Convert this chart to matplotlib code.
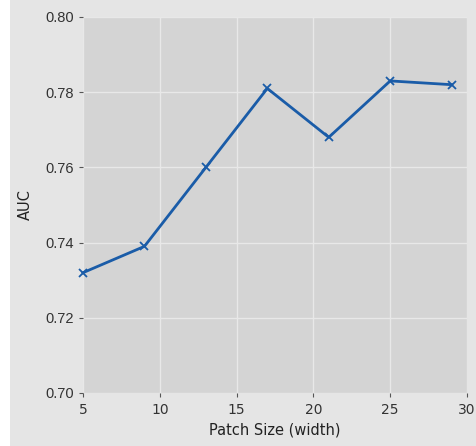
import matplotlib
matplotlib.use("Agg")
import matplotlib.pyplot as plt
from matplotlib.patches import Rectangle

# patch width vs AUC
patch_size = [5, 9, 13, 17, 21, 25, 29]
auc = [0.732, 0.739, 0.760, 0.781, 0.768, 0.783, 0.782]
x_ticks = [5, 10, 15, 20, 25, 30]
y_ticks = [0.70, 0.72, 0.74, 0.76, 0.78, 0.80]

fig = plt.figure(figsize=(4.76, 4.46), dpi=100, facecolor="#e5e5e5")
fig.patches.append(Rectangle((0, 0), 10 / 476, 1, transform=fig.transFigure,
                             facecolor="white", edgecolor="none", zorder=-1))
ax = fig.add_axes([83 / 476, 1 - 393 / 446, 384 / 476, 376 / 446])
ax.set_facecolor("#d4d4d4")

ax.plot(patch_size, auc, color="#1a5ca8", linewidth=2, marker="x",
        markersize=6, markeredgewidth=1.3, clip_on=False, zorder=3)

ax.set_xlim(5, 30)
ax.set_ylim(0.70, 0.80)
ax.set_xticks(x_ticks)
ax.set_yticks(y_ticks)
ax.set_yticklabels([f"{v:.2f}" for v in y_ticks], family="Liberation Sans", fontsize=10.5)
ax.tick_params(axis="x", labelsize=10, pad=4)
ax.tick_params(colors="#333333", length=3, width=0.8)
ax.tick_params(axis="both", color="#555555")
ax.grid(True, color="#e8e8e8", linewidth=1)
ax.set_axisbelow(True)
for s in ax.spines.values():
    s.set_visible(False)

ax.set_xlabel("Patch Size (width)", fontsize=10.5, color="#222222", labelpad=4)
ax.set_ylabel("AUC", fontsize=10.5, color="#222222", labelpad=9)

fig.savefig("out.png", dpi=100, facecolor=fig.get_facecolor())
